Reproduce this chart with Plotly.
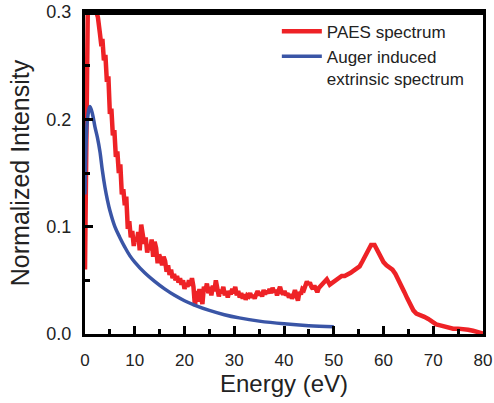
import plotly.graph_objects as go

# PAES spectrum (red)
paes_x = [0.0, 0.2, 0.4, 0.6, 1.0, 1.3, 1.6, 2.0, 2.3, 2.6, 3.0, 3.3, 3.5, 3.8, 4.1, 4.4, 4.7,
          5.0, 5.3, 5.6, 5.9, 6.2, 6.5, 6.8, 7.1, 7.4, 7.7, 8.0, 8.3, 8.6, 8.9, 9.2, 9.5, 9.8,
          10.1, 10.4, 10.7, 11.0, 11.3, 11.6, 11.9, 12.2, 12.5, 12.8, 13.1, 13.4, 13.7, 14.0,
          14.3, 14.6, 14.9, 15.2, 15.5, 15.8, 16.1, 16.4, 16.7, 17.0, 17.3, 17.6, 17.9, 18.2,
          18.5, 18.8, 19.1, 19.4, 19.7, 20.0, 20.3, 20.6, 20.9, 21.2, 21.5, 21.8, 22.1, 22.4,
          22.7, 23.0, 23.3, 23.6, 23.9, 24.2, 24.5, 24.8, 25.1, 25.4, 25.7, 26.0, 26.3, 26.6,
          26.9, 27.2, 27.5, 27.8, 28.1, 28.4, 28.7, 29.0, 29.3, 29.6, 29.9, 30.2, 30.5, 30.8,
          31.1, 31.4, 31.7, 32.0, 32.3, 32.6, 32.9, 33.2, 33.5, 33.8, 34.1, 34.4, 34.7, 35.0,
          35.3, 35.6, 35.9, 36.2, 36.5, 36.8, 37.1, 37.4, 37.7, 38.0, 38.3, 38.6, 38.9, 39.2,
          39.5, 39.8, 40.1, 40.4, 40.7, 41.0, 41.3, 41.6, 41.9, 42.2, 42.5, 42.8, 43.1, 43.4,
          43.7, 44.0, 44.3, 44.6, 44.9, 45.2, 45.5, 45.8, 46.1, 46.4, 46.7, 47.0, 47.5, 48.0,
          48.6, 49.2, 49.8, 50.4, 51.0, 51.6, 52.2, 52.8, 53.4, 54.0, 54.6, 55.2, 55.8, 56.4,
          57.0, 57.5, 58.2, 58.8, 59.4, 60.0, 60.6, 61.2, 61.8, 62.4, 63.0, 63.6, 64.2, 64.8,
          65.4, 66.0, 66.6, 67.4, 68.2, 69.0, 69.8, 70.6, 71.4, 72.2, 73.0, 74.0, 75.0, 76.0,
          77.0, 78.0, 79.0, 80.0]
paes_y = [0.06, 0.15, 0.28, 0.32, 0.31, 0.33, 0.30, 0.32, 0.30, 0.295, 0.28, 0.268, 0.275, 0.255,
          0.26, 0.235, 0.24, 0.205, 0.21, 0.185, 0.19, 0.165, 0.17, 0.15, 0.158, 0.13, 0.135,
          0.12, 0.128, 0.098, 0.105, 0.09, 0.096, 0.082, 0.09, 0.086, 0.095, 0.078, 0.102, 0.09,
          0.084, 0.09, 0.076, 0.082, 0.078, 0.088, 0.072, 0.086, 0.08, 0.066, 0.074, 0.07, 0.064,
          0.072, 0.068, 0.058, 0.064, 0.055, 0.06, 0.052, 0.056, 0.05, 0.054, 0.048, 0.052, 0.046,
          0.05, 0.042, 0.047, 0.044, 0.05, 0.045, 0.052, 0.044, 0.026, 0.04, 0.03, 0.042, 0.036,
          0.028, 0.044, 0.04, 0.047, 0.038, 0.044, 0.036, 0.045, 0.04, 0.05, 0.042, 0.035, 0.041,
          0.038, 0.044, 0.036, 0.04, 0.034, 0.04, 0.037, 0.042, 0.038, 0.044, 0.036, 0.04, 0.034,
          0.038, 0.033, 0.037, 0.032, 0.036, 0.035, 0.038, 0.034, 0.036, 0.033, 0.037, 0.04, 0.036,
          0.039, 0.035, 0.041, 0.037, 0.04, 0.038, 0.042, 0.038, 0.043, 0.039, 0.041, 0.036, 0.04,
          0.044, 0.039, 0.037, 0.04, 0.036, 0.038, 0.034, 0.037, 0.033, 0.036, 0.041, 0.036, 0.031,
          0.039, 0.037, 0.042, 0.041, 0.045, 0.049, 0.046, 0.048, 0.044, 0.042, 0.045, 0.041,
          0.039, 0.043, 0.046, 0.049, 0.051, 0.046, 0.048, 0.05, 0.052, 0.054, 0.054, 0.055,
          0.057, 0.059, 0.061, 0.063, 0.068, 0.074, 0.08, 0.083, 0.083, 0.078, 0.071, 0.067,
          0.064, 0.062, 0.06, 0.056, 0.051, 0.045, 0.039, 0.033, 0.027, 0.022, 0.019, 0.018,
          0.016, 0.014, 0.011, 0.009, 0.008, 0.007, 0.006, 0.005, 0.005, 0.0048, 0.004, 0.003,
          0.002, 0.0005]

# Auger induced extrinsic spectrum (blue)
auger_x = [0.0, 0.5, 1.0, 1.5, 2.0, 2.5, 3.0, 3.5, 4.0, 4.5, 5.0, 6.0, 7.0, 8.0, 9.0, 10.0,
           12.0, 14.0, 16.0, 18.0, 20.0, 22.0, 25.0, 28.0, 31.0, 35.0, 40.0, 45.0, 50.0]
auger_y = [0.13, 0.20, 0.212, 0.205, 0.193, 0.183, 0.17, 0.152, 0.137, 0.125, 0.115, 0.100,
           0.090, 0.081, 0.073, 0.067, 0.057, 0.049, 0.042, 0.036, 0.031, 0.027, 0.022, 0.018,
           0.015, 0.012, 0.0095, 0.0078, 0.0068]

x_ticks = [0, 10, 20, 30, 40, 50, 60, 70, 80]
x_minor = [5, 15, 25, 35, 45, 55, 65, 75]
y_ticks = [0.0, 0.1, 0.2, 0.3]
y_minor = [0.05, 0.15, 0.25]

FONT = "Liberation Sans, Arial, sans-serif"

fig = go.Figure()
fig.add_trace(go.Scatter(x=paes_x, y=paes_y, mode="lines", name="PAES spectrum",
                         line=dict(color="#EE2226", width=4.5)))
fig.add_trace(go.Scatter(x=auger_x, y=auger_y, mode="lines",
                         name="Auger induced<br>extrinsic spectrum",
                         line=dict(color="#3A55A6", width=3.5, shape="spline")))

fig.update_layout(
    width=494, height=403,
    margin=dict(l=85, r=11, t=12, b=69),
    paper_bgcolor="white", plot_bgcolor="white",
    font=dict(family=FONT, color="#222222", size=17),
    showlegend=True,
    legend=dict(x=0.482, y=0.995, xanchor="left", yanchor="top",
                bgcolor="rgba(0,0,0,0)", font=dict(size=17, color="#222222"),
                valign="top", tracegroupgap=0, itemwidth=40),
    # top edge of the frame, drawn explicitly
    shapes=[dict(type="line", xref="paper", yref="paper", x0=-0.004, x1=1.004, y0=0.997, y1=0.997,
                 line=dict(color="black", width=4), layer="above")],
)
fig.update_xaxes(range=[0, 80], tickmode="array", tickvals=x_ticks, ticks="inside", ticklen=8,
                 tickwidth=3, tickcolor="black", showline=True, linecolor="black", linewidth=3,
                 mirror=True, showgrid=False, zeroline=False, tickfont=dict(size=17),
                 automargin=False, ticklabelstandoff=9,
                 minor=dict(tickvals=x_minor, ticks="inside", ticklen=5,
                            tickwidth=3, tickcolor="black"),
                 title=dict(text="Energy (eV)", font=dict(size=24), standoff=0))
fig.update_yaxes(range=[0, 0.3], tickmode="array", tickvals=y_ticks, tickformat=".1f",
                 ticks="inside", ticklen=8, tickwidth=3, tickcolor="black", showline=True,
                 linecolor="black", linewidth=3, mirror=True, showgrid=False, zeroline=False,
                 tickfont=dict(size=18), automargin=False, ticklabelstandoff=7,
                 minor=dict(tickvals=y_minor, ticks="inside", ticklen=5,
                            tickwidth=3, tickcolor="black"),
                 title=dict(text="Normalized Intensity", font=dict(size=25), standoff=10))

fig.write_html("out.html", config={"displayModeBar": False},
               post_script="document.body.style.margin='0px';")
